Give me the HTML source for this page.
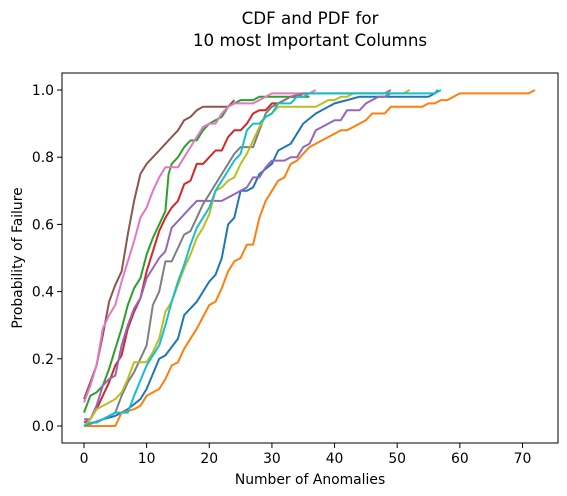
<!DOCTYPE html>
<html><head><meta charset="utf-8"><style>
body{margin:0;background:#fff;}
svg{display:block;font-family:"DejaVu Sans","Liberation Sans",sans-serif;}
</style></head><body>
<svg id="chart" width="567" height="496" viewBox="0 0 567 496" xmlns="http://www.w3.org/2000/svg">
<rect width="567" height="496" fill="#fff"/>
<text x="310" y="24" font-size="16.7" text-anchor="middle">CDF and PDF for</text>
<text x="310" y="46" font-size="16.7" text-anchor="middle">10 most Important Columns</text>
<g id="plot"></g>
<rect x="62" y="73" width="496" height="370" fill="none" stroke="#000" stroke-width="1"/>
<g id="axes"></g>
<text x="310" y="484" font-size="13.9" text-anchor="middle">Number of Anomalies</text>
<text x="22" y="258" font-size="13.9" text-anchor="middle" transform="rotate(-90 22 258)">Probability of Failure</text>
</svg>
<script>
const xTicks=[0,10,20,30,40,50,60,70];
const yTicks=[0,0.2,0.4,0.6,0.8,1.0];
const colors=["#1f77b4","#ff7f0e","#2ca02c","#d62728","#9467bd","#8c564b","#e377c2","#7f7f7f","#bcbd22","#17becf"];
const s0x=[0,3,5,7,9,10,12,13,15,16,18,20,21,22,23,24,25,26,27,28,30,31,33,35,37,39,40,42,44,48,55,56,56.5];
const s0y=[0,0.02,0.03,0.05,0.08,0.11,0.2,0.21,0.26,0.33,0.37,0.43,0.45,0.5,0.6,0.62,0.7,0.7,0.71,0.75,0.78,0.82,0.84,0.9,0.93,0.95,0.96,0.97,0.98,0.98,0.98,0.99,1.0];
const s1x=[0,5,6,8,9,10,12,13,14,15,16,18,20,21,22,23,24,25,26,27,28,29,30,31,32,33,34,35,36,38,40,41,42,44,45,46,48,49,54,55,56,57,58,60,71,72];
const s1y=[0,0,0.04,0.05,0.06,0.09,0.11,0.14,0.18,0.19,0.23,0.29,0.36,0.37,0.41,0.46,0.49,0.5,0.54,0.54,0.62,0.67,0.7,0.73,0.74,0.78,0.79,0.81,0.83,0.85,0.87,0.88,0.88,0.9,0.91,0.93,0.93,0.95,0.95,0.96,0.96,0.97,0.97,0.99,0.99,1.0];
const s2x=[0,1,2,3,4,5,6,7,8,9,10,11,12,13,13.5,14,15,16,17,18,19,20,21,22,23,24,25,27,28,32,36];
const s2y=[0.04,0.09,0.1,0.12,0.17,0.23,0.29,0.36,0.41,0.44,0.51,0.56,0.6,0.64,0.75,0.78,0.8,0.83,0.85,0.85,0.88,0.9,0.91,0.92,0.95,0.96,0.97,0.97,0.98,0.98,0.98];
const s3x=[0,1,2,3,4,5,6,7,8,9,10,11,12,13,14,15,16,17,18,19,20,21,22,23,24,25,26,27,28,29,30,31,32,33,34,35];
const s3y=[0.01,0.02,0.05,0.09,0.13,0.18,0.21,0.29,0.34,0.38,0.46,0.52,0.58,0.62,0.65,0.67,0.72,0.73,0.78,0.78,0.8,0.82,0.82,0.86,0.88,0.88,0.9,0.93,0.94,0.94,0.96,0.96,0.97,0.98,0.98,0.99];
const s4x=[0,1,2,3,4,5,6,7,8,9,10,11,12,13,14,15,16,17,18,19,22,23,24,25,26,27,28,29,30,32,33,34,35,36,37,39,40,41,42,44,45,46,47,48,49];
const s4y=[0.02,0.02,0.06,0.12,0.14,0.15,0.24,0.3,0.35,0.38,0.44,0.47,0.5,0.52,0.59,0.61,0.63,0.65,0.67,0.67,0.67,0.68,0.69,0.7,0.71,0.74,0.74,0.77,0.79,0.79,0.8,0.8,0.83,0.84,0.88,0.9,0.91,0.91,0.94,0.94,0.96,0.97,0.98,0.98,0.99];
const s5x=[0,1,2,3,4,5,6,7,8,9,10,11,12,13,14,15,16,17,18,19,23,24];
const s5y=[0.08,0.13,0.18,0.27,0.37,0.42,0.46,0.57,0.67,0.75,0.78,0.8,0.82,0.84,0.86,0.88,0.91,0.92,0.94,0.95,0.95,0.97];
const s6x=[0,1,2,3,4,5,6,7,8,9,10,11,12,13,15,16,17,18,19,20,21,22,23,24,27,28,29,30,36,37];
const s6y=[0.07,0.12,0.18,0.29,0.33,0.36,0.43,0.49,0.55,0.62,0.65,0.7,0.74,0.77,0.77,0.8,0.83,0.86,0.89,0.9,0.9,0.93,0.95,0.96,0.96,0.97,0.98,0.99,0.99,1.0];
const s7x=[0,3,5,6,7,8,10,11,12,13,14,15,16,17,18,19,20,21,22,23,24,25,27,28,29,30,31,32,33,35,48,49];
const s7y=[0,0.02,0.04,0.09,0.13,0.16,0.24,0.36,0.4,0.49,0.49,0.53,0.57,0.58,0.62,0.66,0.69,0.72,0.75,0.78,0.81,0.83,0.83,0.88,0.93,0.95,0.96,0.97,0.98,0.99,0.99,1.0];
const s8x=[0,1,2,4,5,6,7,8,10,11,12,13,14,15,16,17,18,19,20,21,22,23,24,25,26,27,28,29,30,31,33,37,39,40,41,42,43,51,52];
const s8y=[0,0.02,0.05,0.07,0.08,0.1,0.14,0.19,0.19,0.22,0.26,0.34,0.37,0.42,0.47,0.51,0.56,0.59,0.63,0.7,0.71,0.73,0.74,0.78,0.81,0.85,0.89,0.92,0.93,0.95,0.95,0.95,0.97,0.97,0.98,0.98,0.99,0.99,1.0];
const s9x=[0,1,2,3,5,7,8,10,11,12,13,14,15,16,17,18,19,20,21,22,23,24,25,26,27,28,29,30,31,33,34,35,36,50,56,57];
const s9y=[0,0.01,0.01,0.02,0.04,0.04,0.09,0.18,0.21,0.24,0.3,0.37,0.43,0.48,0.54,0.59,0.62,0.65,0.7,0.73,0.76,0.79,0.81,0.88,0.9,0.9,0.92,0.93,0.96,0.96,0.98,0.98,0.99,0.99,0.99,1.0];
const seriesX=[s0x,s1x,s2x,s3x,s4x,s5x,s6x,s7x,s8x,s9x];
const seriesY=[s0y,s1y,s2y,s3y,s4y,s5y,s6y,s7y,s8y,s9y];
const X0=84,XS=6.264,Y0=426,YS=336;
function xs(v){return X0+v*XS;}
function ys(v){return Y0-v*YS;}
const NS="http://www.w3.org/2000/svg";
const plot=document.getElementById('plot');
const axes=document.getElementById('axes');
seriesX.forEach((xa,i)=>{
  const ya=seriesY[i];
  const p=document.createElementNS(NS,'polyline');
  p.setAttribute('points',xa.map((x,j)=>xs(x).toFixed(1)+','+ys(ya[j]).toFixed(1)).join(' '));
  p.setAttribute('fill','none');p.setAttribute('stroke',colors[i]);p.setAttribute('stroke-width','2');
  p.setAttribute('stroke-linejoin','round');
  
  
  plot.appendChild(p);
});
xTicks.forEach(t=>{
  const l=document.createElementNS(NS,'line');
  l.setAttribute('x1',xs(t));l.setAttribute('x2',xs(t));l.setAttribute('y1',443);l.setAttribute('y2',448);l.setAttribute('stroke','#000');
  
  
  axes.appendChild(l);
  const tx=document.createElementNS(NS,'text');
  tx.setAttribute('x',xs(t));tx.setAttribute('y',463);tx.setAttribute('font-size','13.9');tx.setAttribute('text-anchor','middle');
  tx.textContent=t;
  
  
  axes.appendChild(tx);
});
yTicks.forEach(t=>{
  const l=document.createElementNS(NS,'line');
  l.setAttribute('x1',57);l.setAttribute('x2',62);l.setAttribute('y1',ys(t));l.setAttribute('y2',ys(t));l.setAttribute('stroke','#000');
  
  
  axes.appendChild(l);
  const tx=document.createElementNS(NS,'text');
  tx.setAttribute('x',54);tx.setAttribute('y',ys(t)+5);tx.setAttribute('font-size','13.9');tx.setAttribute('text-anchor','end');
  tx.textContent=t.toFixed(1);
  
  
  axes.appendChild(tx);
});
</script>
</body></html>
